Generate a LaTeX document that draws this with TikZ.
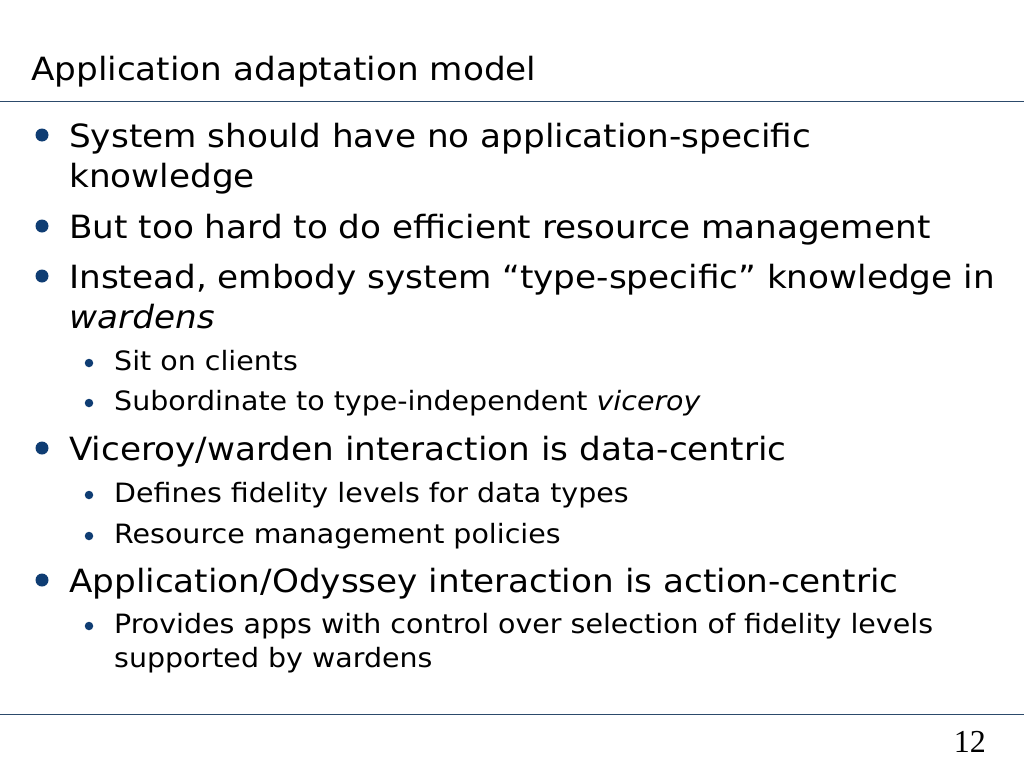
\documentclass[tikz,border=0pt]{standalone}
\usepackage{fontspec}
\setmainfont{DejaVu Sans}[FakeStretch=1.07]
\newfontfamily\numfont{Liberation Serif}
\usetikzlibrary{positioning}
\definecolor{rulecol}{HTML}{2C4A6B}
\definecolor{dotcol}{HTML}{0F3D73}

\begin{document}
\begin{tikzpicture}[x=1pt, y=-1pt,
		title/.style={anchor=base west, inner sep=0pt, font=\fontsize{32}{38}\selectfont},
		main/.style={anchor=base west, inner sep=0pt, font=\fontsize{32}{40}\selectfont},
		sub/.style={anchor=base west, inner sep=0pt, font=\fontsize{26.6}{32}\selectfont},
		bigdot/.style={circle, fill=dotcol, inner sep=0pt, minimum size=13pt},
		smalldot/.style={circle, fill=dotcol, inner sep=0pt, minimum size=8.5pt}]
		\useasboundingbox[fill=white] (0,0) rectangle (1024,768);

		\coordinate (ruleT) at (0, 101.5);
		\coordinate (ruleB) at (0, 714.5);

		\node[title] (TIT) at (31, 80) {Application adaptation model};
		\draw[rulecol, line width=1.5pt] (ruleT) -- ++(1024,0);

		\node[bigdot] (D1) at (42, 135) {};
		\node[main] (M1) at (69, 147) {System should have no application-specific};
		\node[main] (M1b) at (69, 187) {knowledge};
		\node[bigdot] (D2) at (42, 226) {};
		\node[main] (M2) at (69, 238) {But too hard to do efficient resource management};
		\node[bigdot] (D3) at (42, 276) {};
		\node[main] (M3) at (69, 288) {Instead, embody system “type-specific” knowledge in};
		\node[main] (M3b) at (69, 328) {\itshape wardens};
		\node[smalldot] (S1) at (89, 363) {};
		\node[sub] (T1) at (114, 370) {Sit on clients};
		\node[smalldot] (S2) at (89, 403) {};
		\node[sub] (T2) at (114, 410) {Subordinate to type-independent \textit{viceroy}};
		\node[bigdot] (D4) at (42, 448) {};
		\node[main] (M4) at (69, 460) {Viceroy/warden interaction is data-centric};
		\node[smalldot] (S3) at (89, 495) {};
		\node[sub] (T3) at (114, 502) {Defines fidelity levels for data types};
		\node[smalldot] (S4) at (89, 536) {};
		\node[sub] (T4) at (114, 543) {Resource management policies};
		\node[bigdot] (D5) at (42, 580) {};
		\node[main] (M5) at (69, 592) {Application/Odyssey interaction is action-centric};
		\node[smalldot] (S5) at (89, 626) {};
		\node[sub] (T5) at (114, 633) {Provides apps with control over selection of fidelity levels};
		\node[sub] (T5b) at (114, 667) {supported by wardens};

		\draw[rulecol, line width=1.5pt] (ruleB) -- ++(1024,0);
		\node[anchor=base east, inner sep=0pt, font=\numfont\fontsize{32}{36}\selectfont] (PG) at (986, 752) {12};
	\end{tikzpicture}
\end{document}
